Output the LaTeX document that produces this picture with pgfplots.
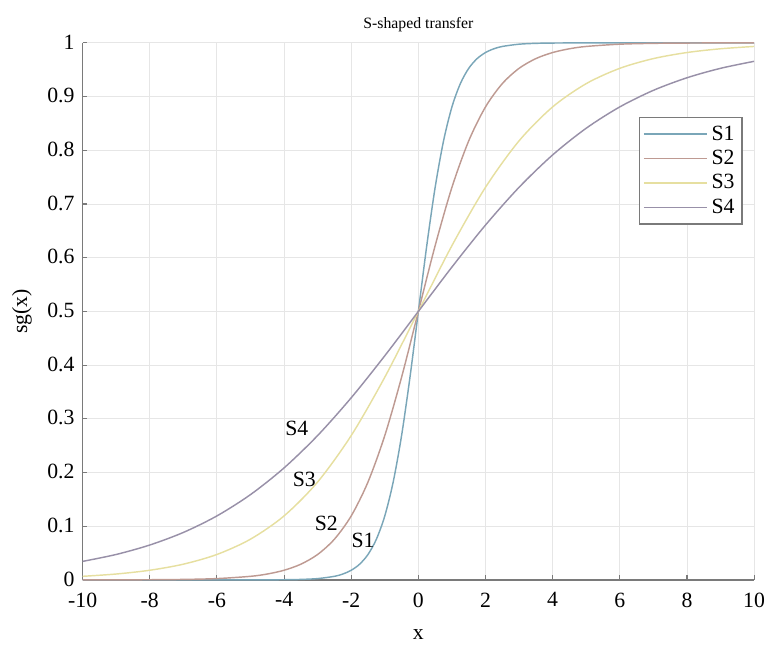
\documentclass[border=0pt]{standalone}
\usepackage{fontspec}
\setmainfont{Liberation Serif}
\usepackage{pgfplots}
\pgfplotsset{compat=1.18}
\definecolor{sone}{HTML}{7AA6B8}
\definecolor{stwo}{HTML}{BE9A92}
\definecolor{sthree}{HTML}{E6DFA0}
\definecolor{sfour}{HTML}{9890A8}
\definecolor{axisgray}{HTML}{7A7A7A}
\definecolor{gridgray}{HTML}{E6E6E6}

\begin{document}
\begin{tikzpicture}
\begin{axis}[
  scale only axis,
  width=370.7pt, height=296.5pt,
  xmin=-10, xmax=10, ymin=0, ymax=1,
  xtick={-10,-8,...,10},
  ytick={0,0.1,...,1.0},
  axis x line*=bottom, axis y line*=left,
  axis line style={axisgray, line width=0.8pt},
  tick style={axisgray, line width=0.6pt},
  tick align=inside, major tick length=2.5pt,
  grid=major, grid style={gridgray, line width=0.5pt},
  font=\fontsize{12}{14}\selectfont,
  /pgf/number format/assume math mode=true,
  xticklabel style={yshift=-3.5pt},
  yticklabel style={xshift=-1pt, yshift=0.5pt},
  title={\fontsize{8.7}{10}\selectfont S-shaped transfer},
  title style={at={(rel axis cs:0.5,1)}, anchor=south, yshift=-3.3pt},
  xlabel={x}, ylabel={sg(x)},
  xlabel style={at={(rel axis cs:0.5,0)}, anchor=center, yshift=-30pt},
  ylabel style={at={(rel axis cs:-0.0905,0.5)}, anchor=center},
  clip=false,
  legend style={at={(rel axis cs:0.828,0.8627)}, anchor=north west,
    draw=axisgray, line width=1pt, fill=white,
    inner xsep=2pt, inner ysep=2.5pt,
    row sep=0pt,
    cells={anchor=west},
    font=\fontsize{12}{12}\selectfont},
  legend image code/.code={\draw[#1, line width=0.8pt] (0pt,0pt) -- (35pt,0pt);},
]
\addplot[sone, line width=0.8pt, smooth] coordinates {
  (-10,0) (-8,0.0000001) (-6,0.000006) (-5,0.000045) (-4,0.000335)
  (-3.5,0.00091) (-3,0.00247) (-2.5,0.00669) (-2.25,0.0110) (-2,0.0180)
  (-1.75,0.0293) (-1.5,0.0474) (-1.25,0.0759) (-1,0.1192) (-0.75,0.1824)
  (-0.5,0.2689) (-0.25,0.3775) (0,0.5) (0.25,0.6225) (0.5,0.7311)
  (0.75,0.8176) (1,0.8808) (1.25,0.9241) (1.5,0.9526) (1.75,0.9707)
  (2,0.9820) (2.25,0.9890) (2.5,0.99331) (3,0.99753) (3.5,0.99909)
  (4,0.99966) (5,0.99996) (6,0.999994) (8,1.0) (10,1.0)
};
\addplot[stwo, line width=0.8pt, smooth] coordinates {
  (-10,0.0000454) (-9,0.000123) (-8,0.000335) (-7,0.000911) (-6,0.00247)
  (-5,0.00669) (-4.5,0.0110) (-4,0.0180) (-3.5,0.0293) (-3,0.0474)
  (-2.5,0.0759) (-2,0.1192) (-1.5,0.1824) (-1,0.2689) (-0.5,0.3775)
  (0,0.5) (0.5,0.6225) (1,0.7311) (1.5,0.8176) (2,0.8808) (2.5,0.9241)
  (3,0.9526) (3.5,0.9707) (4,0.9820) (4.5,0.9890) (5,0.99331)
  (6,0.99753) (7,0.99909) (8,0.99966) (9,0.99988) (10,0.99995)
};
\addplot[sthree, line width=0.8pt, smooth] coordinates {
  (-10,0.00669) (-9,0.0110) (-8,0.0180) (-7,0.0293) (-6,0.0474)
  (-5,0.0759) (-4,0.1192) (-3,0.1824) (-2,0.2689) (-1,0.3775) (0,0.5)
  (1,0.6225) (2,0.7311) (3,0.8176) (4,0.8808) (5,0.9241) (6,0.9526)
  (7,0.9707) (8,0.9820) (9,0.9890) (10,0.99331)
};
\addplot[sfour, line width=0.8pt, smooth] coordinates {
  (-10,0.0345) (-9,0.0474) (-8,0.0650) (-7,0.0884) (-6,0.1192)
  (-5,0.1589) (-4,0.2086) (-3,0.2689) (-2,0.3392) (-1,0.4174) (0,0.5)
  (1,0.5826) (2,0.6608) (3,0.7311) (4,0.7914) (5,0.8411) (6,0.8808)
  (7,0.9116) (8,0.9350) (9,0.9526) (10,0.9656)
};
\legend{S1,S2,S3,S4}
\node at (axis cs:-3.62,0.282) {S4};
\node at (axis cs:-3.40,0.188) {S3};
\node at (axis cs:-2.74,0.106) {S2};
\node at (axis cs:-1.65,0.074) {S1};
\path (rel axis cs:-0.1231,-0.1150) rectangle (rel axis cs:1.0208,1.0798);
\end{axis}
\end{tikzpicture}
\end{document}
